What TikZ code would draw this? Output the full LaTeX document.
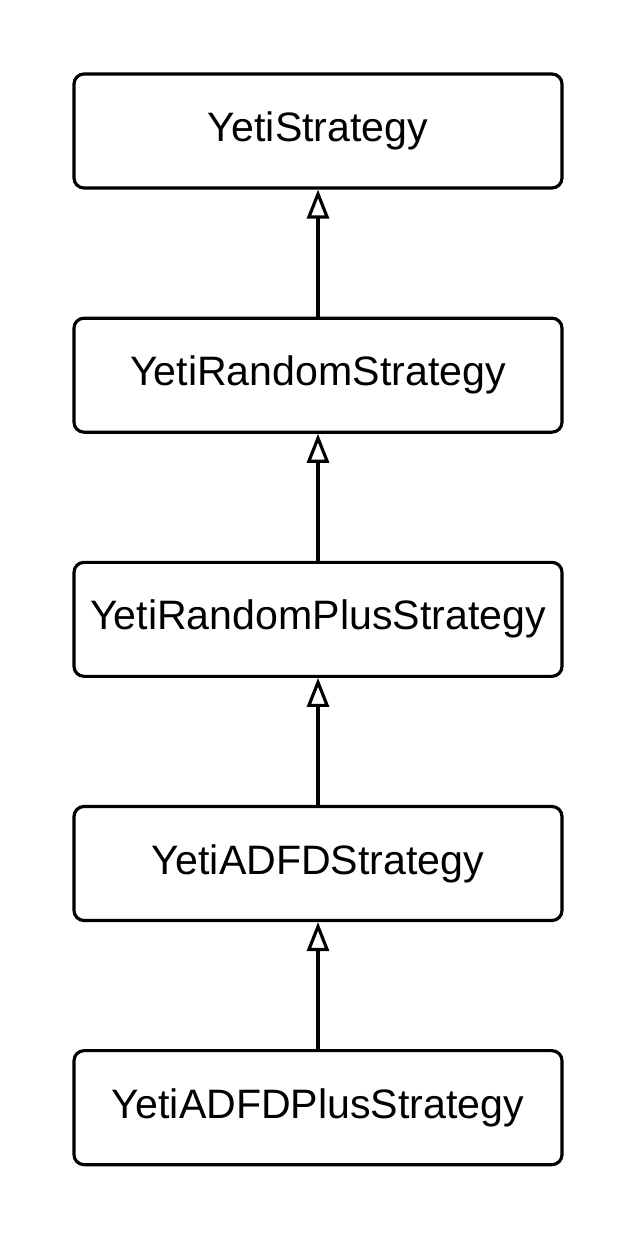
\documentclass[tikz,border=0pt]{standalone}
\usepackage{fontspec}
\setmainfont{Liberation Sans}
\usetikzlibrary{arrows.meta,positioning}

\begin{document}
\begin{tikzpicture}[>={Triangle[open,width=0.22cm,length=0.29cm]},
  node distance=1.27cm,
  cls/.style={draw,line width=0.9pt,rounded corners=0.1cm,minimum width=4.88cm,
    minimum height=1.14cm,inner sep=0pt,font=\fontsize{11.7}{14}\selectfont},
  inherit/.style={->,line width=0.9pt}]
  \useasboundingbox (0,0) rectangle (6.38,-12.38);
  \node[cls] (yeti) at (3.18,-1.31) {YetiStrategy};
  \node[cls,below=of yeti] (random) {YetiRandomStrategy};
  \node[cls,below=of random] (randomplus) {YetiRandomPlusStrategy};
  \node[cls,below=of randomplus] (adfd) {YetiADFDStrategy};
  \node[cls,below=of adfd] (adfdplus) {YetiADFDPlusStrategy};
  \draw[inherit] (random) -- (yeti);
  \draw[inherit] (randomplus) -- (random);
  \draw[inherit] (adfd) -- (randomplus);
  \draw[inherit] (adfdplus) -- (adfd);
\end{tikzpicture}
\end{document}
